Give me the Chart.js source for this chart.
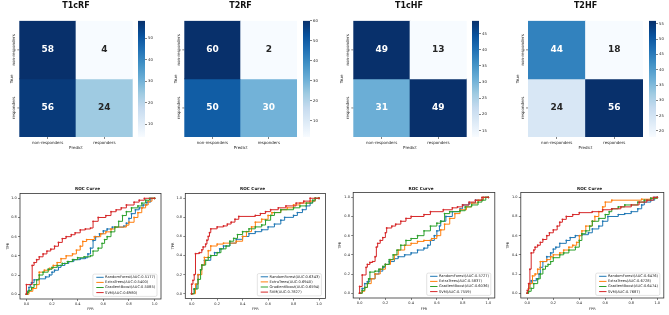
<!DOCTYPE html>
<html>
<head>
<meta charset="utf-8">
<script src="https://cdn.jsdelivr.net/npm/chart.js@4.4.0/dist/chart.umd.min.js"></script>
<style>
body { margin: 0; background: #fff; }
#fig { position: relative; width: 669px; height: 315px; overflow: hidden; background: #fff; }
.box { position: absolute; }
</style>
</head>
<body>
<div id="fig"></div>
<script>
// ---- data ----
var classes = ["non-responders", "responders"];
var cmTitles = ["T1cRF", "T2RF", "T1cHF", "T2HF"];
// rows = True, cols = Predict
var cmT1cRF = [[58, 4], [56, 24]];
var cmT2RF = [[60, 2], [50, 30]];
var cmT1cHF = [[49, 13], [31, 49]];
var cmT2HF = [[44, 18], [24, 56]];
var cbTicksT1cRF = [10, 20, 30, 40, 50];
var cbTicksT2RF = [10, 20, 30, 40, 50, 60];
var cbTicksT1cHF = [15, 20, 25, 30, 35, 40, 45];
var cbTicksT2HF = [20, 25, 30, 35, 40, 45, 50, 55];

var models = ["RandomForest", "ExtraTrees", "GradientBoost", "SVM"];
var rocTicks = [0, 0.2, 0.4, 0.6, 0.8, 1.0];
var auc1 = ["0.5177", "0.5400", "0.5085", "0.6980"];
var auc2 = ["0.6343", "0.6940", "0.6594", "0.7827"];
var auc3 = ["0.5727", "0.5837", "0.6036", "0.7559"];
var auc4 = ["0.6476", "0.6728", "0.6474", "0.7687"];

// [fpr, tpr]
var roc1RF = [[0,0],[0.01,0.03],[0.02,0.07],[0.03,0.1],[0.04,0.12],[0.06,0.15],[0.1,0.16],[0.15,0.18],[0.18,0.2],[0.2,0.23],[0.22,0.25],[0.25,0.28],[0.27,0.3],[0.3,0.32],[0.33,0.34],[0.37,0.36],[0.42,0.37],[0.46,0.38],[0.48,0.42],[0.5,0.48],[0.52,0.56],[0.54,0.6],[0.57,0.63],[0.6,0.66],[0.63,0.68],[0.67,0.7],[0.76,0.71],[0.78,0.74],[0.8,0.79],[0.82,0.84],[0.85,0.88],[0.88,0.9],[0.91,0.93],[0.94,0.96],[0.97,1.0],[1,1]];
var roc1ET = [[0,0],[0.02,0.03],[0.05,0.06],[0.08,0.1],[0.1,0.23],[0.14,0.25],[0.18,0.27],[0.21,0.3],[0.24,0.33],[0.27,0.37],[0.31,0.4],[0.36,0.42],[0.39,0.46],[0.42,0.5],[0.44,0.55],[0.47,0.57],[0.53,0.6],[0.58,0.63],[0.62,0.65],[0.66,0.68],[0.69,0.7],[0.78,0.72],[0.8,0.75],[0.84,0.8],[0.87,0.85],[0.9,0.9],[0.93,0.93],[0.95,0.97],[0.98,1.0],[1,1]];
var roc1GB = [[0,0],[0.01,0.02],[0.02,0.04],[0.04,0.07],[0.06,0.1],[0.08,0.15],[0.1,0.2],[0.13,0.23],[0.17,0.26],[0.2,0.28],[0.24,0.3],[0.28,0.32],[0.32,0.34],[0.36,0.36],[0.4,0.38],[0.45,0.39],[0.5,0.4],[0.52,0.45],[0.56,0.48],[0.59,0.53],[0.61,0.57],[0.63,0.6],[0.66,0.65],[0.69,0.7],[0.72,0.76],[0.75,0.82],[0.78,0.86],[0.82,0.9],[0.87,0.92],[0.9,0.95],[0.93,0.98],[0.96,1.0],[1,1]];
var roc1SVM = [[0,0],[0,0.1],[0.045,0.3],[0.06,0.33],[0.08,0.36],[0.1,0.39],[0.13,0.42],[0.16,0.45],[0.19,0.47],[0.22,0.5],[0.25,0.54],[0.28,0.58],[0.31,0.6],[0.35,0.62],[0.38,0.64],[0.42,0.67],[0.46,0.68],[0.5,0.69],[0.52,0.76],[0.56,0.8],[0.62,0.82],[0.66,0.86],[0.7,0.88],[0.74,0.9],[0.78,0.93],[0.84,0.96],[0.88,0.98],[0.92,1.0],[1,1]];

var roc2RF = [[0,0],[0.02,0.05],[0.04,0.1],[0.05,0.2],[0.07,0.25],[0.08,0.3],[0.1,0.35],[0.15,0.4],[0.18,0.43],[0.22,0.47],[0.25,0.5],[0.3,0.53],[0.35,0.57],[0.4,0.6],[0.45,0.63],[0.5,0.65],[0.55,0.67],[0.6,0.7],[0.65,0.73],[0.7,0.77],[0.73,0.8],[0.8,0.82],[0.83,0.85],[0.87,0.88],[0.9,0.92],[0.93,0.95],[0.95,0.97],[0.97,1.0],[1,1]];
var roc2ET = [[0,0],[0.03,0.1],[0.05,0.2],[0.08,0.3],[0.1,0.38],[0.13,0.45],[0.15,0.5],[0.2,0.52],[0.25,0.53],[0.35,0.55],[0.4,0.6],[0.43,0.65],[0.47,0.7],[0.5,0.75],[0.55,0.78],[0.6,0.82],[0.63,0.85],[0.7,0.88],[0.75,0.9],[0.8,0.93],[0.85,0.95],[0.93,0.97],[0.97,1.0],[1,1]];
var roc2GB = [[0,0],[0.02,0.05],[0.05,0.15],[0.07,0.25],[0.08,0.3],[0.11,0.35],[0.13,0.38],[0.15,0.4],[0.2,0.43],[0.23,0.47],[0.27,0.5],[0.3,0.55],[0.33,0.58],[0.36,0.62],[0.4,0.65],[0.45,0.68],[0.5,0.7],[0.55,0.72],[0.58,0.77],[0.62,0.82],[0.65,0.85],[0.7,0.88],[0.8,0.9],[0.85,0.92],[0.9,0.95],[0.95,0.98],[0.97,1.0],[1,1]];
var roc2SVM = [[0,0],[0,0.1],[0.01,0.14],[0.02,0.2],[0.03,0.42],[0.06,0.43],[0.08,0.46],[0.09,0.49],[0.11,0.52],[0.12,0.56],[0.13,0.6],[0.14,0.64],[0.15,0.68],[0.2,0.7],[0.25,0.71],[0.28,0.73],[0.31,0.75],[0.34,0.78],[0.37,0.81],[0.5,0.82],[0.54,0.84],[0.58,0.86],[0.62,0.88],[0.68,0.9],[0.74,0.92],[0.82,0.95],[0.88,0.97],[0.93,1.0],[1,1]];

var roc3RF = [[0,0],[0.02,0.05],[0.04,0.1],[0.06,0.12],[0.08,0.15],[0.12,0.2],[0.15,0.23],[0.18,0.27],[0.2,0.3],[0.23,0.33],[0.27,0.36],[0.3,0.38],[0.35,0.4],[0.4,0.42],[0.45,0.45],[0.5,0.47],[0.53,0.5],[0.55,0.55],[0.58,0.6],[0.6,0.65],[0.62,0.7],[0.63,0.75],[0.67,0.8],[0.72,0.85],[0.78,0.88],[0.8,0.92],[0.85,0.94],[0.9,0.97],[0.96,1.0],[1,1]];
var roc3ET = [[0,0],[0.02,0.02],[0.04,0.06],[0.06,0.1],[0.09,0.15],[0.12,0.2],[0.16,0.25],[0.2,0.3],[0.24,0.35],[0.27,0.4],[0.3,0.45],[0.35,0.5],[0.4,0.52],[0.45,0.54],[0.5,0.55],[0.56,0.57],[0.6,0.6],[0.63,0.66],[0.66,0.72],[0.7,0.78],[0.74,0.83],[0.78,0.87],[0.83,0.9],[0.87,0.94],[0.92,0.97],[0.96,1.0],[1,1]];
var roc3GB = [[0,0],[0.02,0.03],[0.04,0.06],[0.06,0.1],[0.07,0.15],[0.08,0.22],[0.12,0.23],[0.15,0.25],[0.18,0.28],[0.2,0.3],[0.23,0.35],[0.26,0.4],[0.29,0.45],[0.32,0.5],[0.36,0.55],[0.4,0.57],[0.45,0.6],[0.5,0.65],[0.55,0.7],[0.6,0.73],[0.63,0.75],[0.66,0.83],[0.7,0.85],[0.78,0.86],[0.82,0.9],[0.87,0.92],[0.92,0.95],[0.95,0.97],[0.98,1.0],[1,1]];
var roc3SVM = [[0,0],[0,0.07],[0.02,0.19],[0.05,0.27],[0.06,0.3],[0.08,0.32],[0.1,0.33],[0.12,0.38],[0.13,0.48],[0.14,0.52],[0.16,0.55],[0.18,0.58],[0.2,0.63],[0.21,0.68],[0.25,0.7],[0.28,0.72],[0.32,0.75],[0.36,0.78],[0.4,0.8],[0.5,0.82],[0.55,0.85],[0.65,0.87],[0.72,0.89],[0.76,0.9],[0.8,0.92],[0.85,0.95],[0.9,0.97],[0.95,1.0],[1,1]];

var roc4RF = [[0,0],[0.01,0.05],[0.02,0.1],[0.03,0.13],[0.07,0.15],[0.09,0.2],[0.1,0.27],[0.12,0.33],[0.15,0.38],[0.18,0.42],[0.2,0.46],[0.22,0.48],[0.25,0.52],[0.3,0.55],[0.33,0.58],[0.37,0.6],[0.42,0.61],[0.47,0.63],[0.5,0.67],[0.55,0.7],[0.58,0.75],[0.62,0.8],[0.7,0.82],[0.75,0.83],[0.8,0.85],[0.85,0.88],[0.88,0.92],[0.9,0.95],[0.95,0.97],[0.98,1.0],[1,1]];
var roc4ET = [[0,0],[0.01,0.05],[0.02,0.1],[0.04,0.18],[0.06,0.2],[0.08,0.25],[0.1,0.33],[0.15,0.35],[0.18,0.38],[0.2,0.4],[0.25,0.42],[0.28,0.45],[0.32,0.48],[0.35,0.5],[0.38,0.53],[0.4,0.6],[0.42,0.65],[0.45,0.7],[0.5,0.75],[0.52,0.8],[0.55,0.85],[0.58,0.9],[0.6,0.95],[0.65,0.97],[0.88,0.98],[0.95,0.99],[1,1]];
var roc4GB = [[0,0],[0.01,0.02],[0.03,0.05],[0.05,0.1],[0.08,0.15],[0.1,0.2],[0.12,0.25],[0.14,0.28],[0.16,0.3],[0.18,0.33],[0.2,0.37],[0.25,0.4],[0.28,0.42],[0.32,0.45],[0.37,0.48],[0.4,0.55],[0.42,0.62],[0.45,0.65],[0.48,0.7],[0.5,0.75],[0.55,0.78],[0.6,0.82],[0.63,0.85],[0.65,0.88],[0.7,0.9],[0.75,0.92],[0.85,0.95],[0.9,0.97],[0.95,0.99],[1,1]];
var roc4SVM = [[0,0],[0,0.03],[0.01,0.1],[0.02,0.25],[0.03,0.42],[0.05,0.45],[0.06,0.48],[0.08,0.5],[0.1,0.53],[0.12,0.56],[0.15,0.6],[0.17,0.63],[0.2,0.66],[0.23,0.7],[0.25,0.74],[0.27,0.77],[0.3,0.8],[0.35,0.82],[0.4,0.84],[0.5,0.85],[0.58,0.87],[0.65,0.88],[0.72,0.9],[0.8,0.92],[0.86,0.95],[0.92,0.97],[0.97,1.0],[1,1]];

// ---- style / layout ----
var modelColors = ["#1f77b4", "#ff7f0e", "#2ca02c", "#d62728"];
var bluesStops = [[247,251,255],[222,235,247],[198,219,239],[158,202,225],[107,174,214],[66,146,198],[33,113,181],[8,81,156],[8,48,107]];
var heatLayout = [
    {left: 0,   width: 152, l: 19.3,  r: 132.7, trueX: 11.7,  cb: 138},
    {left: 165, width: 151, l: 184.3, r: 297,   trueX: 176.3, cb: 303},
    {left: 334, width: 150, l: 353.3, r: 466.7, trueX: 341.7, cb: 472},
    {left: 509, width: 153, l: 528,   r: 643,   trueX: 517.7, cb: 649}
];
var heatTop = 20.8, heatBottom = 137, heatH = 155, cbW = 22, cbBarW = 7;
var rocLayout = [
    {left: 0,   l: 20,    r: 161,   t: 193.5, b: 299,   tprX: 8.3},
    {left: 165, l: 185.3, r: 325.4, t: 193.5, b: 298.5, tprX: 173.3},
    {left: 333, l: 353.2, r: 494.8, t: 192.5, b: 298,   tprX: 340},
    {left: 500, l: 520.8, r: 663.8, t: 192.5, b: 298,   tprX: 508.3}
];
var rocTop = 180, rocH = 135;

Chart.defaults.font.family = '"DejaVu Sans", sans-serif';
Chart.defaults.color = '#222';
Chart.defaults.animation = false;

function blues(t) {
    t = Math.max(0, Math.min(1, t));
    var p = t * 8, i = Math.min(7, Math.floor(p)), f = p - i;
    var a = bluesStops[i], b = bluesStops[i + 1];
    return [0, 1, 2].map(function (k) { return Math.round(a[k] + (b[k] - a[k]) * f); });
}
function rgbStr(c) { return 'rgb(' + c[0] + ',' + c[1] + ',' + c[2] + ')'; }
function lum(c) {
    var v = c.map(function (x) { x /= 255; return x <= 0.03928 ? x / 12.92 : Math.pow((x + 0.055) / 1.055, 2.4); });
    return 0.2126 * v[0] + 0.7152 * v[1] + 0.0722 * v[2];
}

function addBox(left, top, w, h) {
    var d = document.createElement('div');
    d.className = 'box';
    d.style.left = left + 'px'; d.style.top = top + 'px';
    d.style.width = w + 'px'; d.style.height = h + 'px';
    var c = document.createElement('canvas');
    d.appendChild(c);
    document.getElementById('fig').appendChild(d);
    return c;
}

// empty right-hand scale used only to reserve space, so the title stays centred on the canvas
function spacer(w) {
    return {
        type: 'linear', position: 'right', display: true,
        grid: { display: false }, border: { display: false }, ticks: { display: false },
        afterFit: function (s) { s.width = w; }
    };
}

// annotations + rotated row labels on the heatmap
var heatLabels = {
    id: 'heatLabels',
    afterDraw: function (chart) {
        var ctx = chart.ctx, ca = chart.chartArea, ys = chart.scales.y;
        ctx.save();
        chart.data.datasets.forEach(function (ds, r) {
            var meta = chart.getDatasetMeta(r);
            meta.data.forEach(function (el, c) {
                var col = ds.cellRgb[c];
                ctx.fillStyle = lum(col) > 0.408 ? '#262626' : '#ffffff';
                ctx.font = 'bold 9px "DejaVu Sans"';
                ctx.textAlign = 'center';
                ctx.textBaseline = 'middle';
                ctx.fillText(String(ds.values[c]), el.x, (el.y + el.base) / 2);
            });
            // row tick + label
            var yc = ys.getPixelForValue(classes.length - r - 0.5);
            ctx.strokeStyle = '#333';
            ctx.lineWidth = 0.6;
            ctx.beginPath(); ctx.moveTo(ca.left - 2, yc); ctx.lineTo(ca.left, yc); ctx.stroke();
            ctx.save();
            ctx.translate(ca.left - 3.2, yc);
            ctx.rotate(-Math.PI / 2);
            ctx.fillStyle = '#222';
            ctx.font = '4px "DejaVu Sans"';
            ctx.textAlign = 'center';
            ctx.textBaseline = 'bottom';
            ctx.fillText(classes[r], 0, 0);
            ctx.restore();
        });
        ctx.restore();
    }
};

function heatChart(idx, title, cm, cbTicks) {
    var lay = heatLayout[idx];
    var flat = cm[0].concat(cm[1]);
    var vmin = Math.min.apply(null, flat), vmax = Math.max.apply(null, flat);
    var canvas = addBox(lay.left, 0, lay.width, heatH);
    var aL = lay.l - lay.left, aR = lay.r - lay.left;
    new Chart(canvas, {
        type: 'bar',
        data: {
            labels: classes,
            datasets: cm.map(function (row, r) {
                var rgb = row.map(function (v) { return blues((v - vmin) / (vmax - vmin)); });
                return {
                    label: classes[r],
                    values: row,
                    cellRgb: rgb,
                    data: row.map(function () { return [classes.length - r - 1, classes.length - r]; }),
                    backgroundColor: rgb.map(rgbStr),
                    borderWidth: 0,
                    grouped: false,
                    barPercentage: 1,
                    categoryPercentage: 1
                };
            })
        },
        options: {
            responsive: true,
            maintainAspectRatio: false,
            layout: { padding: 0 },
            plugins: {
                legend: { display: false },
                tooltip: { enabled: false },
                title: {
                    display: true, text: title, color: '#111',
                    font: { size: 8, weight: 'bold' },
                    padding: { top: 1, bottom: heatTop - 1 - 9.6 }
                }
            },
            scales: {
                x: {
                    grid: { display: true, drawOnChartArea: false, drawTicks: true, tickLength: 2, offset: false, color: '#333', lineWidth: 0.6 },
                    border: { display: false },
                    ticks: { font: { size: 4 }, padding: 1.5, maxRotation: 0, autoSkip: false, color: '#222' },
                    title: { display: true, text: 'Predict', font: { size: 4 }, color: '#222', padding: { top: 0, bottom: 4.3 } },
                    afterFit: function (s) { s.height = heatH - heatBottom; }
                },
                y: {
                    min: 0, max: classes.length,
                    grid: { display: false },
                    border: { display: false },
                    ticks: { display: false },
                    title: { display: true, text: 'True', font: { size: 4 }, color: '#222', padding: { top: lay.trueX - lay.left - 2.4, bottom: 0 } },
                    afterFit: function (s) { s.width = aL; }
                },
                pad: spacer(lay.width - aR)
            }
        },
        plugins: [heatLabels]
    });

    // colorbar
    var cbCanvas = addBox(lay.cb, 0, cbW, heatH);
    new Chart(cbCanvas, {
        type: 'bar',
        data: {
            labels: ['cb'],
            datasets: [{
                data: [[vmin, vmax]],
                borderWidth: 0,
                barPercentage: 1,
                categoryPercentage: 1,
                backgroundColor: function (c) {
                    var ca = c.chart.chartArea;
                    if (!ca) return '#fff';
                    var g = c.chart.ctx.createLinearGradient(0, ca.bottom, 0, ca.top);
                    bluesStops.forEach(function (s, i) { g.addColorStop(i / 8, rgbStr(s)); });
                    return g;
                }
            }]
        },
        options: {
            responsive: true,
            maintainAspectRatio: false,
            layout: { padding: { left: 0, right: 0, top: heatTop, bottom: heatH - heatBottom } },
            plugins: { legend: { display: false }, tooltip: { enabled: false } },
            scales: {
                x: { display: false },
                y: {
                    position: 'right', min: vmin, max: vmax,
                    afterBuildTicks: function (s) { s.ticks = cbTicks.map(function (v) { return { value: v }; }); },
                    ticks: { font: { size: 3.8 }, padding: 1, color: '#222', callback: function (v) { return String(Math.round(v)); } },
                    grid: { drawOnChartArea: false, tickLength: 2, color: '#333', lineWidth: 0.6 },
                    border: { display: false },
                    afterFit: function (s) { s.width = cbW - cbBarW; }
                }
            }
        }
    });
}

// frame round the axes
var frame = {
    id: 'frame',
    afterDatasetsDraw: function (chart) {
        var ctx = chart.ctx, ca = chart.chartArea;
        ctx.save();
        ctx.strokeStyle = '#333';
        ctx.lineWidth = 0.8;
        ctx.strokeRect(ca.left, ca.top, ca.right - ca.left, ca.bottom - ca.top);
        ctx.restore();
    }
};

// legend in lower right
var rocLegend = {
    id: 'rocLegend',
    afterDatasetsDraw: function (chart) {
        var ctx = chart.ctx, ca = chart.chartArea, sets = chart.data.datasets;
        var fs = 3.6, rowH = 5.1, padL = 3.4, handle = 7.4, gap = 1.4, padR = 1.8, padT = 3.2;
        ctx.save();
        ctx.font = fs + 'px "DejaVu Sans"';
        var tw = 0;
        sets.forEach(function (d) { tw = Math.max(tw, ctx.measureText(d.label).width); });
        var w = padL + handle + gap + tw + padR;
        var h = padT + rowH * (sets.length - 1) + padT + 0.6;
        var x = ca.right - 4 - w, y = ca.bottom - 2.6 - h;
        ctx.fillStyle = 'rgba(255,255,255,0.8)';
        ctx.strokeStyle = '#d0d0d0';
        ctx.lineWidth = 0.6;
        ctx.beginPath();
        ctx.roundRect(x, y, w, h, 1.5);
        ctx.fill();
        ctx.stroke();
        sets.forEach(function (d, i) {
            var yy = y + padT + i * rowH;
            ctx.strokeStyle = d.borderColor;
            ctx.lineWidth = 1;
            ctx.beginPath(); ctx.moveTo(x + padL, yy); ctx.lineTo(x + padL + handle, yy); ctx.stroke();
            ctx.fillStyle = '#222';
            ctx.textAlign = 'left';
            ctx.textBaseline = 'middle';
            ctx.fillText(d.label, x + padL + handle + gap, yy);
        });
        ctx.restore();
    }
};

function rocChart(idx, sets, aucs) {
    var lay = rocLayout[idx];
    var titleCx = (lay.l + lay.r) / 2 - 3;
    var width = Math.round(2 * (titleCx - lay.left));
    var canvas = addBox(lay.left, rocTop, width, rocH);
    var titlePadTop = 6.3, titleLH = 4.2 * 1.2;
    new Chart(canvas, {
        type: 'scatter',
        data: {
            datasets: sets.map(function (pts, i) {
                return {
                    label: models[i] + '(AUC:' + aucs[i] + ')',
                    data: pts.map(function (p) { return { x: p[0], y: p[1] }; }),
                    showLine: true,
                    stepped: true,
                    order: sets.length - i,
                    borderColor: modelColors[i],
                    backgroundColor: modelColors[i],
                    borderWidth: 1,
                    pointRadius: 0.9,
                    pointBorderWidth: 0,
                    fill: false
                };
            })
        },
        options: {
            responsive: true,
            maintainAspectRatio: false,
            layout: { padding: 0 },
            plugins: {
                legend: { display: false },
                tooltip: { enabled: false },
                title: {
                    display: true, text: 'ROC Curve', color: '#111',
                    font: { size: 4.2 },
                    padding: { top: titlePadTop, bottom: lay.t - rocTop - titlePadTop - titleLH }
                }
            },
            scales: {
                x: {
                    type: 'linear', min: -0.05, max: 1.05,
                    afterBuildTicks: function (s) { s.ticks = rocTicks.map(function (v) { return { value: v }; }); },
                    ticks: { font: { size: 3.5 }, padding: 1.2, color: '#222', maxRotation: 0, callback: function (v) { return v.toFixed(1); } },
                    grid: { drawOnChartArea: false, tickLength: 2, color: '#333', lineWidth: 0.6 },
                    border: { display: false },
                    title: { display: true, text: 'FPR', font: { size: 3.5 }, color: '#222', padding: { top: 0, bottom: 3.9 } },
                    afterFit: function (s) { s.height = rocTop + rocH - lay.b; }
                },
                y: {
                    type: 'linear', min: -0.05, max: 1.05,
                    afterBuildTicks: function (s) { s.ticks = rocTicks.map(function (v) { return { value: v }; }); },
                    ticks: { font: { size: 3.5 }, padding: 1.3, color: '#222', callback: function (v) { return v.toFixed(1); } },
                    grid: { drawOnChartArea: false, tickLength: 2, color: '#333', lineWidth: 0.6 },
                    border: { display: false },
                    title: { display: true, text: 'TPR', font: { size: 3.5 }, color: '#222', padding: { top: lay.tprX - lay.left - 2.1, bottom: 0 } },
                    afterFit: function (s) { s.width = lay.l - lay.left; }
                },
                pad: spacer(lay.left + width - lay.r)
            }
        },
        plugins: [frame, rocLegend]
    });
}

heatChart(0, cmTitles[0], cmT1cRF, cbTicksT1cRF);
heatChart(1, cmTitles[1], cmT2RF, cbTicksT2RF);
heatChart(2, cmTitles[2], cmT1cHF, cbTicksT1cHF);
heatChart(3, cmTitles[3], cmT2HF, cbTicksT2HF);

rocChart(0, [roc1RF, roc1ET, roc1GB, roc1SVM], auc1);
rocChart(1, [roc2RF, roc2ET, roc2GB, roc2SVM], auc2);
rocChart(2, [roc3RF, roc3ET, roc3GB, roc3SVM], auc3);
rocChart(3, [roc4RF, roc4ET, roc4GB, roc4SVM], auc4);
</script>
</body>
</html>
